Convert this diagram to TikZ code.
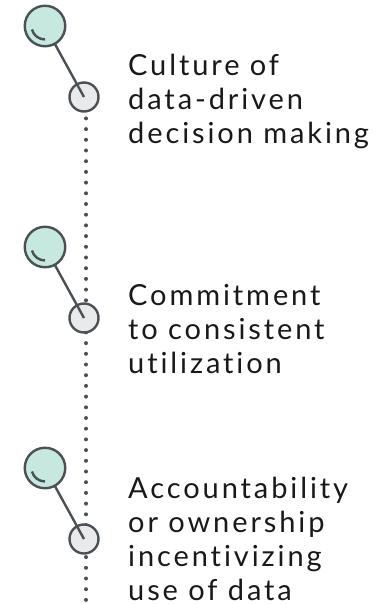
\documentclass[tikz,border=0pt]{standalone}
\usepackage{fontspec}
\setmainfont{Lato}[LetterSpace=10,Ligatures={NoCommon,NoRare,NoDiscretionary}]
\usetikzlibrary{positioning}

\definecolor{mint}{HTML}{C6E8DF}
\definecolor{pale}{HTML}{E9EAEC}
\definecolor{ink}{HTML}{4B5056}

\tikzset{
  bigdot/.style={circle,draw=ink,fill=mint,line width=2.4pt,minimum size=40.5pt,inner sep=0},
  smalldot/.style={circle,draw=ink,fill=pale,line width=2.4pt,minimum size=29pt,inner sep=0},
  stem/.style={draw=ink,line width=2.4pt},
  trail/.style={draw=ink,line width=4pt,line cap=round,dash pattern=on 0pt off 10.7pt},
  label/.style={anchor=base west,inner sep=0,align=left,font=\fontsize{29}{34}\selectfont,text=black!90}
}

\begin{document}
\begin{tikzpicture}[x=1pt,y=-1pt]
  \useasboundingbox (0,0) rectangle (387,604);
  \coordinate (end) at (86,606);
  % dotted trail behind everything
  \draw[trail] (86,97) -- (end);
  \foreach \i/\y in {1/0,2/221,3/442} {
    \node[smalldot] (s\i) at (84,97+\y) {};
    \draw[stem] (45,26+\y) -- (s\i.center);
    \node[bigdot] (b\i) at (45,26+\y) {};
    \draw[stem] (b\i.center) ++(165:13.5) arc (165:90:13.5);
  }
  % last-line baselines
  \node[label] (t1) at (128,144) {Culture of\\data-driven\\decision making};
  \node[label] (t2) at (128,373) {Commitment\\to consistent\\utilization};
  \node[label] (t3) at (128,600) {Accountability\\or ownership\\incentivizing\\use of data};
\end{tikzpicture}
\end{document}
